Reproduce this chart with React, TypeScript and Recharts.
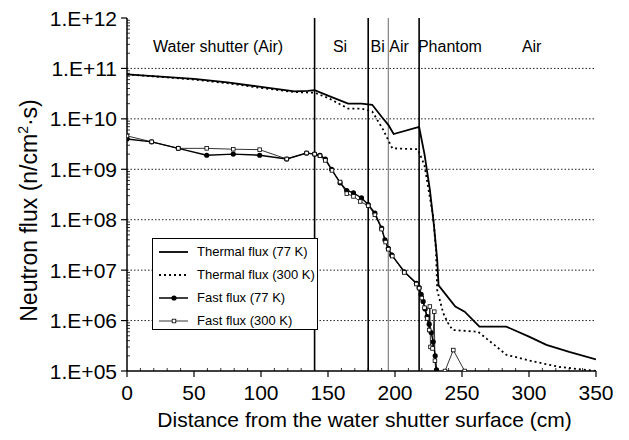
import React from 'react';
import { LineChart, Line, XAxis, YAxis, ReferenceLine, ReferenceDot, Legend } from 'recharts';

const FONT = '"Liberation Sans", Arial, Helvetica, sans-serif';

// ---- data (distance cm, neutron flux n/cm^2/s) ----
const thermal77: [number, number][] = [
  [0, 7.6e10], [25, 6.9e10], [50, 6.2e10], [75, 5.3e10], [100, 4.3e10], [125, 3.5e10],
  [135, 3.6e10], [140, 3.7e10], [150, 2.9e10], [165, 2.0e10], [175, 2.0e10], [183, 1.9e10],
  [190, 1.1e10], [195, 7.6e9], [199, 5.0e9], [218, 6.9e9], [222, 2.0e9], [226, 4.0e8],
  [229, 8.0e7], [231.5, 1.6e7], [232.5, 5.0e6], [245, 1.9e6], [252, 1.5e6], [263, 7.6e5],
  [283, 7.6e5], [300, 4.8e5], [313, 3.3e5], [330, 2.4e5], [350, 1.7e5],
];
const thermal300: [number, number][] = [
  [0, 7.6e10], [25, 6.8e10], [50, 6.0e10], [75, 5.1e10], [100, 4.1e10], [125, 3.4e10],
  [140, 3.3e10], [150, 2.6e10], [165, 1.6e10], [175, 1.6e10], [183, 1.4e10], [191, 6.2e9],
  [198, 2.6e9], [217, 2.5e9], [222, 1.2e9], [225, 4.0e8], [228.5, 1.15e8], [230.6, 2.5e7],
  [231.5, 4.0e6], [236, 1.4e6], [239.5, 9.0e5], [243, 6.5e5], [262, 6.0e5], [276, 3.0e5],
  [283, 2.1e5], [303, 1.55e5], [323, 1.2e5], [340, 1.07e5], [350, 1.0e5],
];
const fast77: [number, number][] = [
  [0, 4.0e9], [18.4, 3.5e9], [38.3, 2.6e9], [59.5, 1.9e9], [79.3, 2.0e9], [99, 1.9e9],
  [119.2, 1.6e9], [134, 2.1e9], [140, 2.0e9], [144, 1.9e9], [148, 1.6e9], [152.7, 1.0e9],
  [159, 5.4e8], [164, 3.8e8], [169, 3.4e8], [175, 2.7e8], [180, 2.0e8], [185, 1.35e8],
  [190, 6.8e7], [192.5, 4.0e7], [195, 2.7e7], [197.5, 2.0e7], [207, 9.3e6], [216, 5.5e6],
  [218, 4.5e6], [219.5, 3.3e6], [221, 2.4e6], [222.5, 1.7e6], [224, 1.2e6], [225.5, 8.5e5],
  [227, 5.8e5], [228.5, 3.8e5], [230, 2.0e5], [231, 1.05e5], [232, 3.0e4],
];
const fast300: [number, number][] = [
  [0, 4.6e9], [18.4, 3.5e9], [38.3, 2.6e9], [59.5, 2.6e9], [79.3, 2.5e9], [99, 2.45e9],
  [119.2, 1.6e9], [134, 2.1e9], [140, 2.0e9], [144, 1.85e9], [148, 1.5e9], [153, 9.5e8],
  [159, 5.6e8], [164, 3.3e8], [169, 2.9e8], [174, 2.3e8], [180, 1.9e8], [185, 1.25e8],
  [190, 6.5e7], [193, 3.6e7], [195, 2.6e7], [198, 1.9e7], [207, 9.0e6], [216, 5.3e6],
  [218, 4.4e6], [220, 2.8e6], [222, 1.8e6], [224, 1.1e6], [225.5, 6.5e5], [226, 1.9e6],
  [226.5, 3.0e5], [228, 2.8e5], [229.3, 1.5e6], [229.8, 1.6e5], [231, 7.0e4],
  [237.3, 1.0e5], [243.5, 2.6e5], [252, 1.0e5], [258, 4.0e4],
];

const seriesNames = ['Thermal flux (77 K)', 'Thermal flux (300 K)', 'Fast flux (77 K)', 'Fast flux (300 K)'];

const xMajorTicks = [0, 50, 100, 150, 200, 250, 300, 350];
const yMajorTicks = [1e5, 1e6, 1e7, 1e8, 1e9, 1e10, 1e11, 1e12];
const yTickLabels = ['1.E+05', '1.E+06', '1.E+07', '1.E+08', '1.E+09', '1.E+10', '1.E+11', '1.E+12'];
const gridLevels = [1e6, 1e7, 1e8, 1e9, 1e10, 1e11];

const boundaries = [140, 180, 195, 218];
const boundaryGray = [false, false, true, false];
const regionNames = ['Water shutter (Air)', 'Si', 'Bi', 'Air', 'Phantom', 'Air'];
const regionCenters = [68, 159, 187, 203, 241, 302];
const regionLevel = 2.8e11;

// minor ticks (decoration only)
const xMinorTicks: number[] = [];
for (let v = 10; v < 350; v += 10) if (v % 50 !== 0) xMinorTicks.push(v);
const yMinorTicks: number[] = [];
for (let e = 5; e < 12; e++) for (let m = 2; m <= 9; m++) yMinorTicks.push(m * Math.pow(10, e));

const toPts = (arr: [number, number][]) => arr.map(([x, y]) => ({ x, y }));

const TS = 6;
const TM = 4;

const YTick = (props: any) => {
  const { x, y, payload } = props;
  const v = payload.value;
  const ax = x + TS + TM;
  const idx = yMajorTicks.indexOf(v);
  if (idx >= 0) {
    return (
      <g>
        <line x1={ax - TS} x2={ax} y1={y} y2={y} stroke="#000" strokeWidth={1.2} />
        <text x={ax - 10} y={y} textAnchor="end" dominantBaseline="central" fontSize={21} fontFamily={FONT} fill="#000">
          {yTickLabels[idx]}
        </text>
      </g>
    );
  }
  return <line x1={ax} x2={ax + 3} y1={y} y2={y} stroke="#000" strokeWidth={0.8} />;
};

const XTick = (props: any) => {
  const { x, y, payload } = props;
  const v = payload.value;
  const ay = y - TS - TM;
  if (xMajorTicks.indexOf(v) >= 0) {
    return (
      <g>
        <line x1={x} x2={x} y1={ay} y2={ay + TS} stroke="#000" strokeWidth={1.2} />
        <text x={x} y={ay + 14} dy="0.71em" textAnchor="middle" fontSize={21} fontFamily={FONT} fill="#000">
          {v}
        </text>
      </g>
    );
  }
  return <line x1={x} x2={x} y1={ay} y2={ay - 3} stroke="#000" strokeWidth={0.8} />;
};

const CircleDot = (p: any) =>
  p.cx == null || p.cy == null ? <g key={p.index} /> : <circle key={p.index} cx={p.cx} cy={p.cy} r={2.6} fill="#000" />;
const SquareDot = (p: any) =>
  p.cx == null || p.cy == null ? <g key={p.index} /> : (
    <rect key={p.index} x={p.cx - 1.8} y={p.cy - 1.8} width={3.6} height={3.6} fill="#fff" stroke="#000" strokeWidth={0.8} />
  );

const legendStyles = [
  { w: 1.8, dash: undefined as string | undefined, marker: 'none' },
  { w: 1.8, dash: '2 3', marker: 'none' },
  { w: 1.5, dash: undefined, marker: 'circle' },
  { w: 0.8, dash: undefined, marker: 'square' },
];

const renderLegend = () => (
  <div
    style={{
      border: '1px solid #000',
      background: '#fff',
      width: 166,
      height: 92,
      boxSizing: 'border-box',
      fontFamily: FONT,
      fontSize: 13,
      paddingTop: 1,
    }}
  >
    {seriesNames.map((name, i) => {
      const s = legendStyles[i];
      return (
        <div key={name} style={{ height: 23, display: 'flex', alignItems: 'center' }}>
          <svg width={44} height={12} style={{ flex: 'none' }}>
            <line x1={6} x2={35} y1={6} y2={6} stroke="#000" strokeWidth={s.w} strokeDasharray={s.dash} />
            {s.marker === 'circle' && <circle cx={21} cy={6} r={2.6} fill="#000" />}
            {s.marker === 'square' && <rect x={19.2} y={4.2} width={3.6} height={3.6} fill="#fff" stroke="#000" strokeWidth={0.8} />}
          </svg>
          <span style={{ whiteSpace: 'nowrap', color: '#000' }}>{name}</span>
        </div>
      );
    })}
  </div>
);

const YLabel = (props: any) => {
  const vb = props.viewBox || { x: 0, y: 18, width: 127, height: 353 };
  const cx = vb.x + 37;
  const cy = vb.y + vb.height / 2 + 16;
  return (
    <text transform={`rotate(-90 ${cx} ${cy})`} x={cx} y={cy} textAnchor="middle" fontSize={23} fontFamily={FONT} fill="#000">
      Neutron flux (n/cm
      <tspan dy={-9} fontSize={14}>2</tspan>
      <tspan dy={9}>·s)</tspan>
    </text>
  );
};

const XLabel = (props: any) => {
  const vb = props.viewBox || { x: 127, y: 371, width: 469, height: 69 };
  return (
    <text x={vb.x + vb.width / 2 + 3} y={vb.y + 56} textAnchor="middle" fontSize={21} fontFamily={FONT} fill="#000">
      Distance from the water shutter surface (cm)
    </text>
  );
};

export default function App() {
  const allX = [...xMajorTicks, ...xMinorTicks].sort((a, b) => a - b);
  const allY = [...yMajorTicks, ...yMinorTicks].sort((a, b) => a - b);
  return (
    <div style={{ position: 'absolute', left: 0, top: 0, width: 629, height: 440, background: '#fff' }}>
      <LineChart width={629} height={440} margin={{ top: 18, right: 33, bottom: 0, left: 0 }}>
        <XAxis
          type="number"
          dataKey="x"
          domain={[0, 350]}
          allowDataOverflow
          ticks={allX}
          interval={0}
          tickSize={TS}
          tickMargin={TM}
          tickLine={false}
          tick={<XTick />}
          height={69}
          axisLine={{ stroke: '#000', strokeWidth: 1.5 }}
          label={<XLabel />}
        />
        <YAxis
          type="number"
          scale="log"
          domain={[1e5, 1e12]}
          allowDataOverflow
          ticks={allY}
          interval={0}
          tickSize={TS}
          tickMargin={TM}
          tickLine={false}
          tick={<YTick />}
          width={127}
          axisLine={{ stroke: '#000', strokeWidth: 1.5 }}
          label={<YLabel />}
        />
        {gridLevels.map((g) => (
          <ReferenceLine key={'g' + g} y={g} stroke="#222" strokeWidth={1} strokeDasharray="1.5 2" />
        ))}
        {boundaries.map((b, i) => (
          <ReferenceLine
            key={'b' + b}
            x={b}
            stroke={boundaryGray[i] ? '#777' : '#000'}
            strokeWidth={boundaryGray[i] ? 1.1 : 1.6}
          />
        ))}
        {regionNames.map((n, i) => (
          <ReferenceDot
            key={'r' + i}
            x={regionCenters[i]}
            y={regionLevel}
            r={0}
            fill="none"
            stroke="none"
            label={{ value: n, position: 'center', fontSize: 16, fill: '#000', fontFamily: FONT }}
          />
        ))}
        <Line data={toPts(thermal77)} dataKey="y" name={seriesNames[0]} stroke="#000" strokeWidth={1.8} dot={false} isAnimationActive={false} />
        <Line data={toPts(thermal300)} dataKey="y" name={seriesNames[1]} stroke="#000" strokeWidth={1.8} strokeDasharray="2 3" dot={false} isAnimationActive={false} />
        <Line data={toPts(fast77)} dataKey="y" name={seriesNames[2]} stroke="#000" strokeWidth={1.4} dot={CircleDot} isAnimationActive={false} />
        <Line data={toPts(fast300)} dataKey="y" name={seriesNames[3]} stroke="#000" strokeWidth={0.8} dot={SquareDot} isAnimationActive={false} />
        <Legend
          layout="horizontal"
          verticalAlign="middle"
          align="center"
          content={renderLegend}
          wrapperStyle={{ left: 152, top: 238, bottom: 'auto', width: 166, height: 92 }}
        />
      </LineChart>
    </div>
  );
}
